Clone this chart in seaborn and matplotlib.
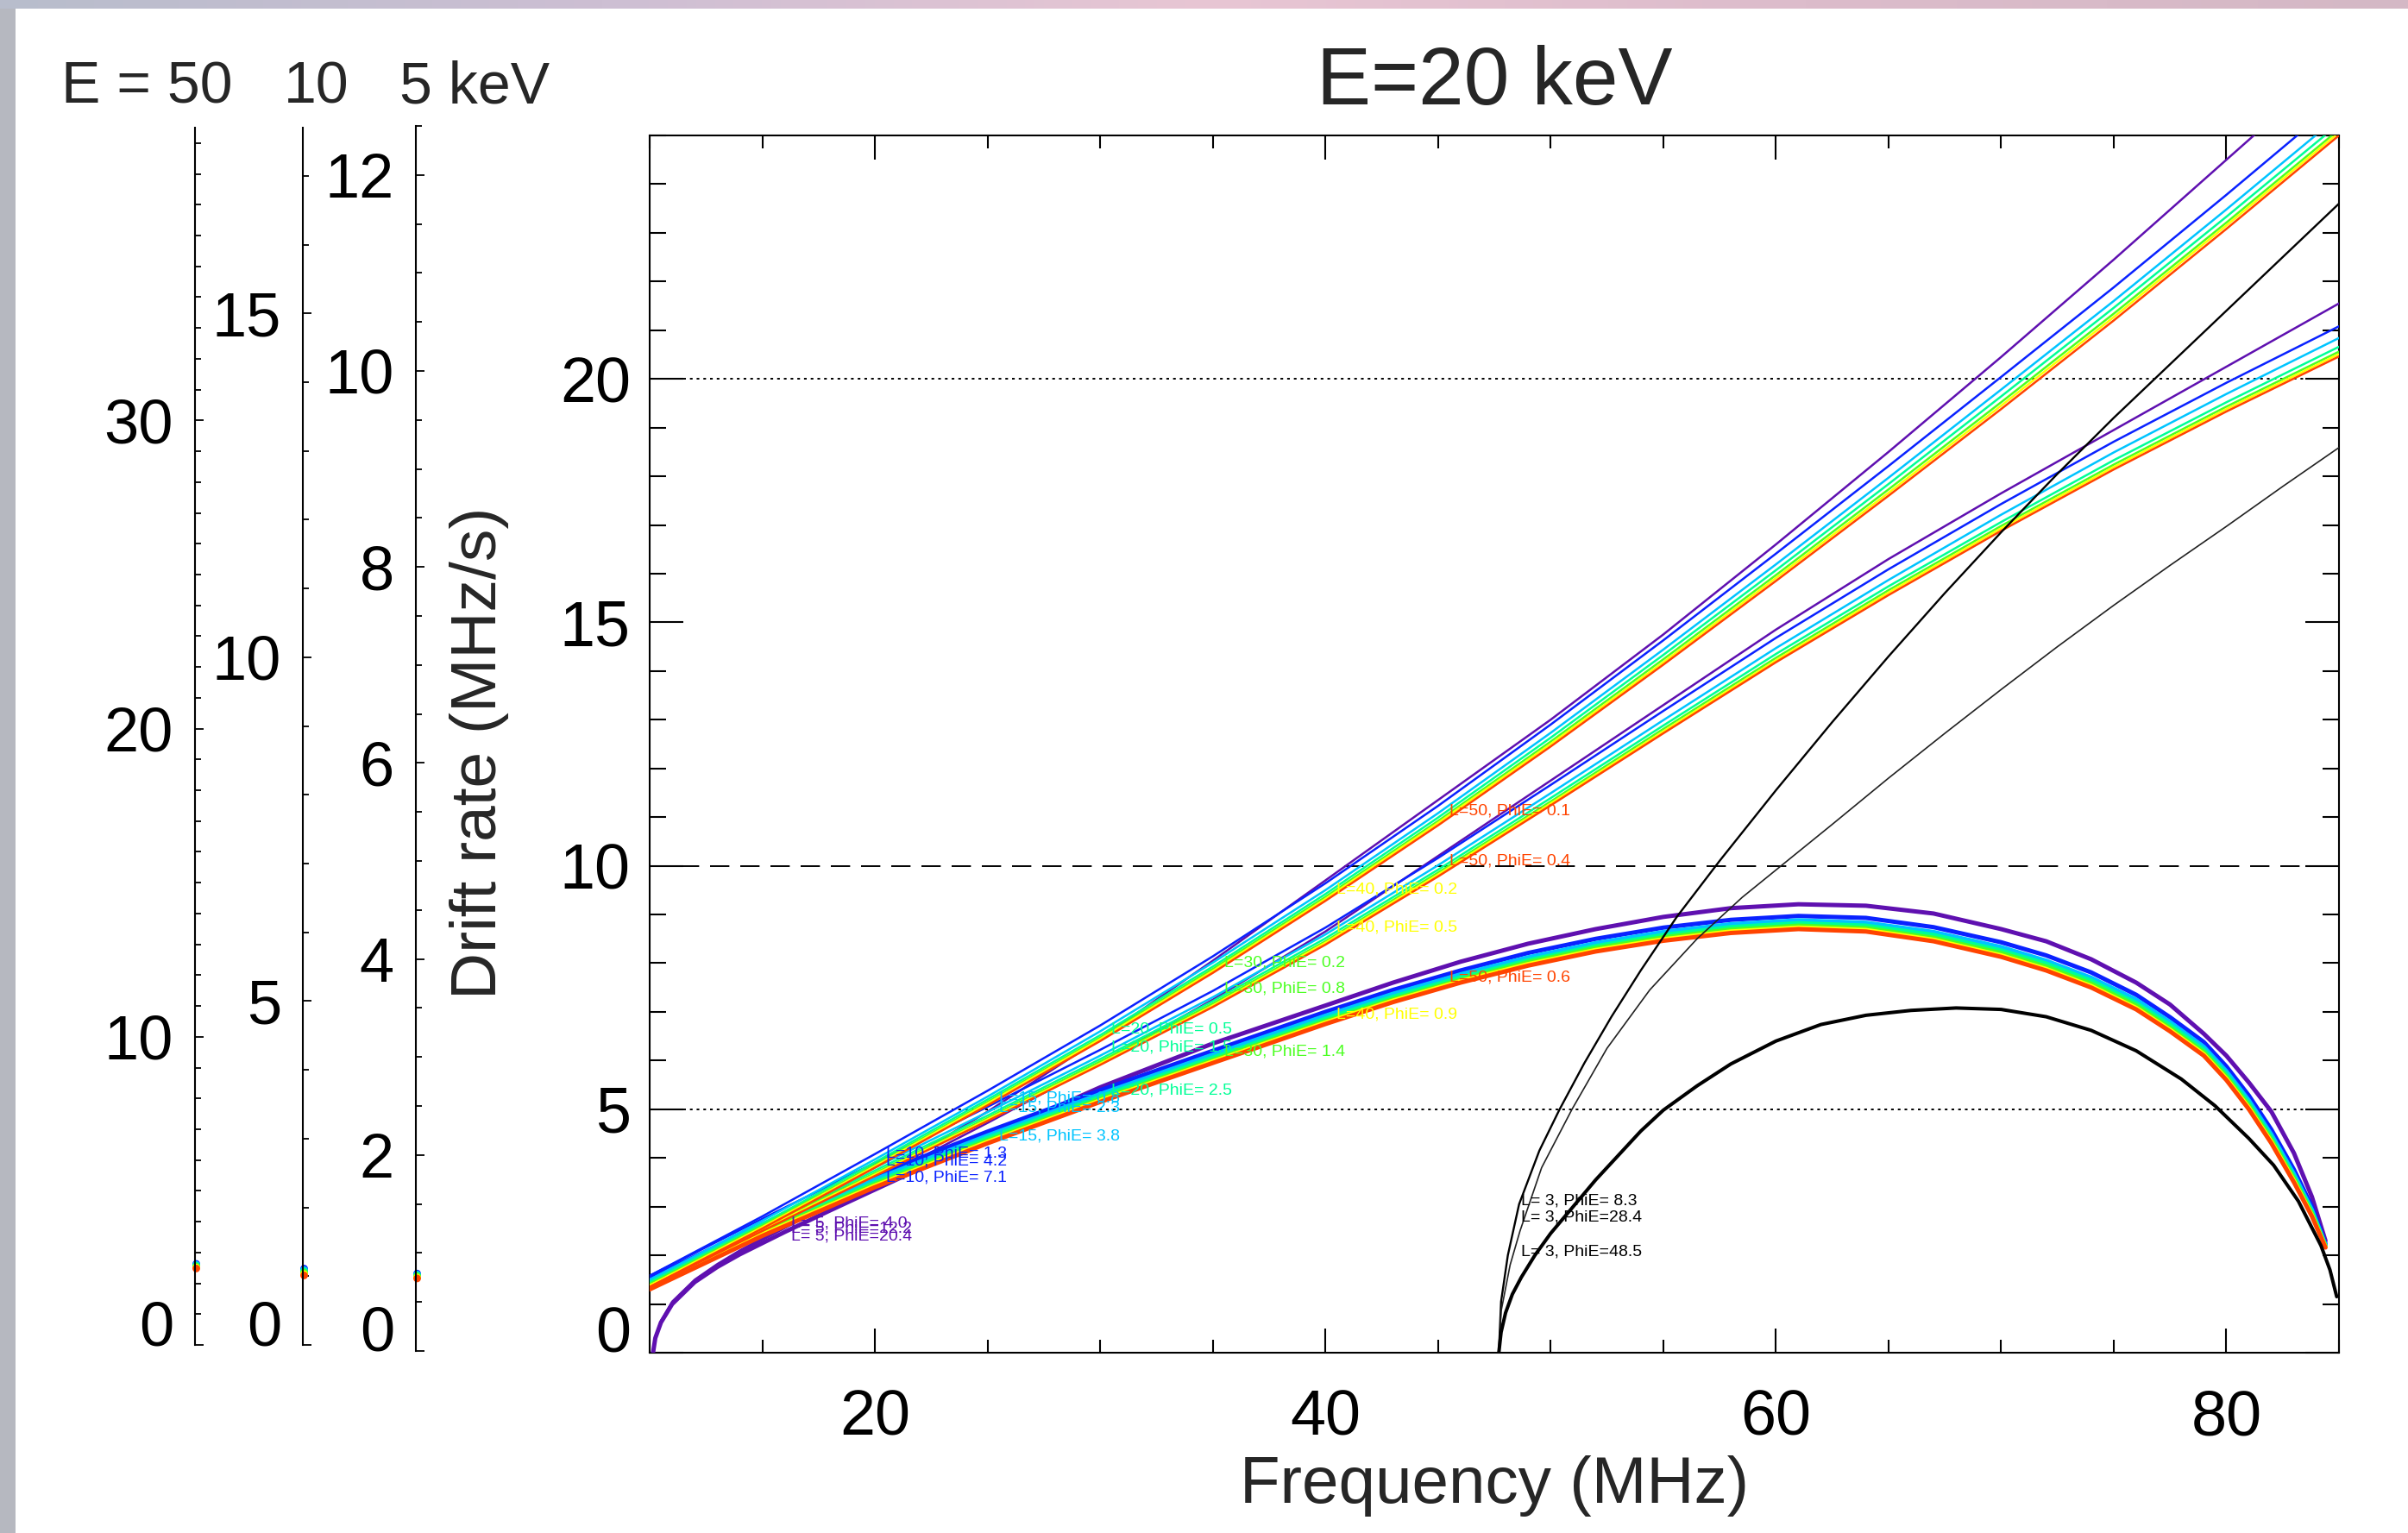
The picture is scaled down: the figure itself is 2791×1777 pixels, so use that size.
import numpy as np
import pandas as pd
import matplotlib
matplotlib.use("Agg")
import matplotlib.pyplot as plt
from matplotlib.patches import Rectangle
from matplotlib.ticker import MultipleLocator, FixedLocator
from matplotlib.colors import LinearSegmentedColormap
import seaborn as sns

# ---- data (E = 20 keV panel) ----
# frequency grids, MHz
freq_lines = [10, 15, 20, 25, 30, 35, 40, 45, 50, 55, 60, 65, 70, 75, 80, 85]
freq_arch = [10, 15, 20, 25, 30, 35, 40, 43, 46, 49, 52, 55, 58, 61, 64, 67, 70, 72, 74, 76,
             77.5, 79, 80, 81, 82, 83, 83.8, 84.4]
freq_l5 = [10.15, 10.25, 10.5, 11, 12, 13, 14, 16, 18, 20, 22, 25, 30, 35, 40, 45, 50, 55, 60,
           65, 70, 75, 80, 85]
freq_l5_arch = [10.15, 10.25, 10.5, 11, 12, 13, 14, 16, 18, 20, 25, 30, 35, 40, 43, 46, 49, 52,
                55, 58, 61, 64, 67, 70, 72, 74, 76, 77.5, 79, 80, 81, 82, 83, 83.8, 84.4]

scale_heights = [5, 10, 15, 20, 30, 40, 50]
line_colors = ["#5f10b0", "#0a22ff", "#00c4ff", "#00ff96", "#4cff22", "#ffff00", "#ff4400"]

# smallest PhiE model (upper family), L = 10 ... 50
drift_a = [
    [1.58, 2.80, 4.08, 5.38, 6.72, 8.14, 9.64, 11.23, 12.90, 14.63, 16.41, 18.21, 20.04, 21.88, 23.78, 25.72],
    [1.50, 2.71, 3.97, 5.26, 6.60, 8.01, 9.50, 11.08, 12.73, 14.44, 16.19, 17.97, 19.78, 21.60, 23.48, 25.40],
    [1.45, 2.65, 3.91, 5.20, 6.52, 7.93, 9.42, 10.99, 12.63, 14.33, 16.07, 17.84, 19.64, 21.46, 23.33, 25.24],
    [1.41, 2.61, 3.86, 5.15, 6.47, 7.88, 9.36, 10.92, 12.55, 14.24, 15.97, 17.73, 19.52, 21.34, 23.21, 25.12],
    [1.38, 2.58, 3.83, 5.12, 6.44, 7.84, 9.32, 10.88, 12.50, 14.18, 15.91, 17.66, 19.45, 21.27, 23.15, 25.06],
    [1.35, 2.55, 3.80, 5.08, 6.40, 7.80, 9.28, 10.83, 12.45, 14.13, 15.85, 17.60, 19.38, 21.20, 23.08, 25.00],
]
drift_a_l5 = [0, 0.33, 0.65, 1.05, 1.5, 1.82, 2.1, 2.6, 3.1, 3.6, 4.12, 4.95, 6.45, 8.05, 9.7, 11.35,
              13.0, 14.75, 16.6, 18.5, 20.45, 22.45, 24.5, 26.55]

# middle PhiE model
drift_b = [
    [1.58, 2.75, 3.90, 5.05, 6.22, 7.43, 8.73, 10.16, 11.66, 13.18, 14.68, 16.09, 17.43, 18.71, 19.92, 21.08],
    [1.50, 2.66, 3.80, 4.94, 6.10, 7.30, 8.59, 10.01, 11.49, 12.99, 14.47, 15.87, 17.21, 18.49, 19.69, 20.84],
    [1.45, 2.60, 3.74, 4.87, 6.03, 7.22, 8.51, 9.92, 11.39, 12.88, 14.35, 15.74, 17.06, 18.33, 19.52, 20.66],
    [1.41, 2.56, 3.69, 4.82, 5.98, 7.17, 8.45, 9.86, 11.32, 12.81, 14.27, 15.66, 16.98, 18.24, 19.43, 20.56],
    [1.38, 2.53, 3.66, 4.79, 5.94, 7.13, 8.42, 9.82, 11.28, 12.76, 14.22, 15.61, 16.93, 18.19, 19.38, 20.51],
    [1.35, 2.50, 3.63, 4.76, 5.91, 7.10, 8.38, 9.78, 11.24, 12.72, 14.18, 15.56, 16.88, 18.14, 19.33, 20.46],
]
drift_b_l5 = [0, 0.32, 0.64, 1.03, 1.48, 1.8, 2.07, 2.56, 3.05, 3.52, 4.0, 4.72, 5.95, 7.25, 8.65, 10.2,
              11.75, 13.3, 14.85, 16.3, 17.65, 18.95, 20.25, 21.55]

# largest PhiE model (arches)
drift_c = [
    [1.53, 2.63, 3.64, 4.54, 5.39, 6.20, 7.00, 7.45, 7.85, 8.21, 8.50, 8.73, 8.89, 8.97, 8.93, 8.74,
     8.43, 8.16, 7.81, 7.35, 6.89, 6.38, 5.88, 5.28, 4.58, 3.76, 3.00, 2.24],
    [1.45, 2.55, 3.56, 4.46, 5.31, 6.12, 6.92, 7.37, 7.77, 8.12, 8.41, 8.64, 8.80, 8.88, 8.83, 8.64,
     8.33, 8.05, 7.70, 7.25, 6.79, 6.28, 5.78, 5.18, 4.48, 3.67, 2.93, 2.21],
    [1.40, 2.50, 3.50, 4.41, 5.26, 6.06, 6.86, 7.31, 7.71, 8.06, 8.35, 8.58, 8.74, 8.82, 8.77, 8.58,
     8.26, 7.99, 7.64, 7.18, 6.73, 6.22, 5.72, 5.12, 4.42, 3.61, 2.89, 2.20],
    [1.36, 2.46, 3.46, 4.36, 5.21, 6.01, 6.81, 7.26, 7.66, 8.02, 8.31, 8.53, 8.69, 8.77, 8.72, 8.52,
     8.21, 7.93, 7.58, 7.13, 6.67, 6.17, 5.67, 5.07, 4.37, 3.57, 2.85, 2.18],
    [1.33, 2.43, 3.43, 4.33, 5.18, 5.98, 6.78, 7.23, 7.63, 7.98, 8.27, 8.49, 8.65, 8.73, 8.68, 8.48,
     8.16, 7.88, 7.53, 7.08, 6.63, 6.13, 5.63, 5.03, 4.33, 3.53, 2.82, 2.17],
    [1.30, 2.40, 3.40, 4.30, 5.15, 5.95, 6.75, 7.20, 7.60, 7.95, 8.24, 8.46, 8.62, 8.70, 8.65, 8.45,
     8.13, 7.85, 7.50, 7.05, 6.60, 6.10, 5.60, 5.00, 4.30, 3.50, 2.80, 2.16],
]
drift_c_l5 = [0, 0.3, 0.62, 1.0, 1.45, 1.76, 2.02, 2.48, 2.92, 3.35, 4.42, 5.45, 6.35, 7.13, 7.6, 8.03,
              8.4, 8.7, 8.95, 9.13, 9.21, 9.18, 9.02, 8.7, 8.45, 8.08, 7.6, 7.15, 6.55, 6.1, 5.55,
              4.95, 4.1, 3.2, 2.3]

# L = 3 curves (black)
freq_l3_upper = [47.7, 47.8, 48.1, 48.6, 49.5, 50.4, 51.5, 52.7, 54.0, 55.6, 57.5, 60, 62.5, 65,
                 67.5, 70, 72.5, 75, 77.5, 80, 82.5, 85]
drift_l3_upper = [0, 1.05, 2.0, 3.05, 4.15, 5.0, 5.95, 6.9, 7.85, 8.95, 10.1, 11.55, 12.95, 14.3,
                  15.6, 16.85, 18.05, 19.2, 20.3, 21.4, 22.5, 23.6]
freq_l3_lower = [47.7, 47.8, 48.2, 48.64, 49.6, 50.95, 52.5, 54.4, 56.5, 58.5, 60.5, 62.5, 65, 67.5,
                 70, 72.5, 75, 77.5, 80, 82.5, 85]
drift_l3_lower = [0, 0.85, 1.8, 2.5, 3.8, 5.0, 6.25, 7.45, 8.5, 9.35, 10.1, 10.85, 11.8, 12.72,
                  13.62, 14.5, 15.35, 16.17, 16.97, 17.79, 18.59]
freq_l3_arch = [47.7, 47.8, 48.0, 48.3, 48.7, 49.3, 50, 51, 52, 53, 54, 55, 56.5, 58, 60, 62, 64,
                66, 68, 70, 72, 74, 76, 78, 79.5, 81, 82.1, 83.2, 84.2, 84.6, 84.9]
drift_l3_arch = [0, 0.42, 0.82, 1.2, 1.55, 2.0, 2.45, 3.0, 3.55, 4.05, 4.55, 4.98, 5.48, 5.93, 6.4,
                 6.74, 6.93, 7.03, 7.08, 7.05, 6.9, 6.62, 6.2, 5.62, 5.07, 4.4, 3.85, 3.11, 2.2,
                 1.7, 1.15]

# curve labels: one column per L, three PhiE values each
label_freq = [16.3, 20.5, 25.5, 30.5, 35.5, 40.5, 45.5, 48.7]
label_scale = [5, 10, 15, 20, 30, 40, 50, 3]
label_phie = [[4.0, 12.2, 20.4], [1.3, 4.2, 7.1], [0.8, 2.3, 3.8], [0.5, 1.5, 2.5],
              [0.2, 0.8, 1.4], [0.2, 0.5, 0.9], [0.1, 0.4, 0.6], [8.3, 28.4, 48.5]]
label_drift = [[2.66, 2.56, 2.39], [4.10, 3.94, 3.59], [5.23, 5.04, 4.45], [6.65, 6.27, 5.39],
               [8.00, 7.47, 6.18], [9.52, 8.73, 6.94], [11.13, 10.10, 7.70], [3.12, 2.78, 2.08]]

# drift rate at 10 MHz on the other energy axes (L = 10 ... 50)
start_e50 = [2.63, 2.60, 2.57, 2.54, 2.51, 2.48]
start_e10 = [1.11, 1.09, 1.07, 1.05, 1.03, 1.01]
start_e5 = [0.79, 0.78, 0.77, 0.76, 0.75, 0.74]

# ---- style ----
sns.set_theme(style="ticks")
plt.rcParams["font.family"] = ["Liberation Sans", "DejaVu Sans"]
plt.rcParams["axes.linewidth"] = 1.5
plt.rcParams["axes.edgecolor"] = "black"
plt.rcParams["xtick.color"] = "black"
plt.rcParams["ytick.color"] = "black"

fig = plt.figure(figsize=(27.91, 17.77), dpi=100)
fig.patch.set_facecolor("white")

# slide background bits: grey strip on the left, tinted band at the top
fig.add_artist(Rectangle((0, 0), 18 / 2791, 1, transform=fig.transFigure,
                         color="#b6b8c0", lw=0, zorder=0))
band_ax = fig.add_axes([0, 1 - 10 / 1777, 1, 10 / 1777])
band_cmap = LinearSegmentedColormap.from_list(
    "band", ["#b8bdcc", "#cdbfd3", "#e8c6d4", "#dcbccb", "#d4b8c5"])
band_ax.imshow(np.linspace(0, 1, 256)[None, :], aspect="auto", cmap=band_cmap)
band_ax.set_axis_off()

ax = fig.add_axes([753 / 2791, 1 - 1568 / 1777, 1958 / 2791, 1411 / 1777])
ax.set_facecolor("white")

# reference levels
ax.axhline(5, color="black", lw=1.4, ls=(0, (1.6, 2.4)), zorder=1)
ax.axhline(20, color="black", lw=1.4, ls=(0, (1.6, 2.4)), zorder=1)
ax.axhline(10, color="black", lw=1.4, ls=(0, (11.5, 6.5)), zorder=1)

thin = 1.8
thick = 3.6
for i, L in enumerate(scale_heights):
    col = line_colors[i]
    if L == 5:
        sets = [(freq_l5, drift_a_l5, thin), (freq_l5, drift_b_l5, thin),
                (freq_l5_arch, drift_c_l5, thick)]
    else:
        sets = [(freq_lines, drift_a[i - 1], thin), (freq_lines, drift_b[i - 1], thin),
                (freq_arch, drift_c[i - 1], thick)]
    for fx, fy, lw in sets:
        sns.lineplot(x=fx, y=fy, ax=ax, color=col, lw=lw, sort=False,
                     estimator=None, legend=False, zorder=3)

sns.lineplot(x=freq_l3_upper, y=drift_l3_upper, ax=ax, color="black", lw=1.7,
             sort=False, estimator=None, legend=False, zorder=4)
sns.lineplot(x=freq_l3_lower, y=drift_l3_lower, ax=ax, color="#222222", lw=1.2,
             sort=False, estimator=None, legend=False, zorder=4)
sns.lineplot(x=freq_l3_arch, y=drift_l3_arch, ax=ax, color="black", lw=2.9,
             sort=False, estimator=None, legend=False, zorder=4)

label_colors = line_colors + ["black"]
for j in range(len(label_freq)):
    for phie, yv in zip(label_phie[j], label_drift[j]):
        ax.text(label_freq[j], yv, f"L={label_scale[j]:2d}, PhiE={phie:4.1f}",
                color=label_colors[j], fontsize=14, ha="left", va="center", zorder=5)

ax.set_xlim(10, 85)
ax.set_ylim(0, 25)
ax.xaxis.set_major_locator(FixedLocator([20, 40, 60, 80]))
ax.xaxis.set_minor_locator(MultipleLocator(5))
ax.yaxis.set_major_locator(FixedLocator([0, 5, 10, 15, 20]))
ax.yaxis.set_minor_locator(MultipleLocator(1))
ax.tick_params(which="both", direction="in", top=True, right=True, width=1.5, labelsize=53)
ax.tick_params(axis="x", which="major", length=20, pad=30)
ax.tick_params(axis="x", which="minor", length=11)
ax.tick_params(axis="y", which="major", length=28, pad=16)
ax.tick_params(axis="y", which="minor", length=14)
for s in ax.spines.values():
    s.set_visible(True)
    s.set_linewidth(1.5)

ax.set_xlabel("Frequency (MHz)", fontsize=55)
ax.xaxis.set_label_coords(0.5, -0.084)
ax.set_ylabel("Drift rate (MHz/s)", fontsize=54, va="center")
ax.yaxis.set_label_coords(-0.101, 0.493)
ax.set_title("E=20 keV", fontsize=68, pad=26)

# narrow axes for the other energies: (x pixel, bottom pixel, top pixel, ymax, ticks, minor step)
small_axes = [
    (226, 1559, 148, 39.5, [0, 10, 20, 30], 1.0, start_e50),
    (351, 1559, 148, 17.7, [0, 5, 10, 15], 1.0, start_e10),
    (482, 1566, 146, 12.5, [0, 2, 4, 6, 8, 10, 12], 0.5, start_e5),
]
small = []
for xpix, bpix, tpix, top, ticks, minor, starts in small_axes:
    sax = fig.add_axes([xpix / 2791, 1 - bpix / 1777, 10 / 2791, (bpix - tpix) / 1777])
    sax.patch.set_alpha(0)
    for name in ["top", "right", "bottom"]:
        sax.spines[name].set_visible(False)
    sax.spines["left"].set_linewidth(1.5)
    sax.set_xlim(10, 11)
    sax.set_ylim(0, top)
    sax.set_xticks([])
    sax.yaxis.set_major_locator(FixedLocator(ticks))
    sax.yaxis.set_minor_locator(MultipleLocator(minor))
    sax.tick_params(axis="y", which="both", direction="in", width=1.3, labelsize=52)
    sax.tick_params(axis="y", which="major", length=7, pad=18)
    sax.tick_params(axis="y", which="minor", length=5)
    sns.scatterplot(x=[10.15] * len(starts), y=starts, ax=sax, hue=list(range(len(starts))),
                    palette=line_colors[1:], s=40, linewidth=0, legend=False, clip_on=False)
    small.append(sax)

fig.text(71 / 2791, 1 - 119 / 1777, "E = 50", fontsize=49, ha="left", va="baseline")
fig.text(329 / 2791, 1 - 119 / 1777, "10", fontsize=49, ha="left", va="baseline")
fig.text(463 / 2791, 1 - 119 / 1777, "5 keV", fontsize=49, ha="left", va="baseline")

# bottom "0" labels sit on the axis bottom
for a in [ax] + small:
    a.get_yticklabels()[0].set_verticalalignment("baseline")

fig.savefig("out.png", dpi=100, facecolor="white")
